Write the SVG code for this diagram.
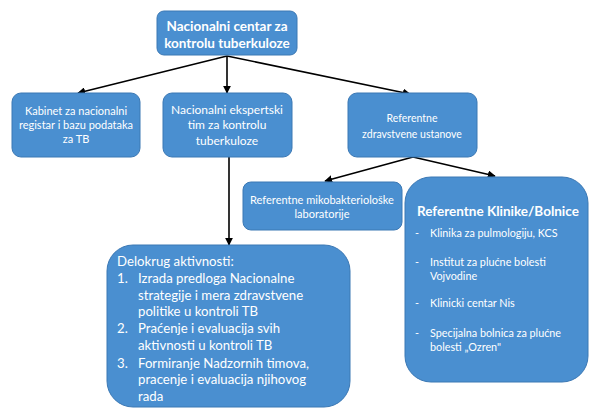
<svg xmlns="http://www.w3.org/2000/svg" width="599" height="419" viewBox="0 0 599 419">
<defs>
<marker id="ah" viewBox="0 0 10 10" refX="9" refY="5" markerWidth="5" markerHeight="5" orient="auto-start-reverse"><path d="M0,0 L10,5 L0,10 z" fill="#000"/></marker>
<style>
.box{fill:#4a8fd0;stroke:#3b78b4;stroke-width:1}
.t{font-family:Lato,"Open Sans","Liberation Sans",sans-serif;fill:#fff}
.c{text-anchor:middle}
.b{font-weight:bold}
.conn{stroke:#000;stroke-width:1.6;fill:none;marker-end:url(#ah)}
</style>
</defs>
<rect width="599" height="419" fill="#fff"/>
<g id="connectors">
<line class="conn" x1="227" y1="56" x2="78" y2="93"/>
<line class="conn" x1="227" y1="56" x2="227" y2="93"/>
<line class="conn" x1="227" y1="56" x2="410" y2="94"/>
<line class="conn" x1="229" y1="157" x2="229" y2="245"/>
<line class="conn" x1="413" y1="157" x2="325" y2="181"/>
<line class="conn" x1="413" y1="157" x2="495" y2="176"/>
</g>
<g id="n_top">
<rect class="box" x="157" y="11" width="140" height="44" rx="7"/>
<text class="t c b" font-size="13.5" x="227" y="31">Nacionalni centar za</text>
<text class="t c b" font-size="13.5" x="227" y="48">kontrolu tuberkuloze</text>
</g>
<g id="n_kabinet">
<rect class="box" x="12" y="93" width="128" height="64" rx="9"/>
<text class="t c" font-size="11" x="76" y="115">Kabinet za nacionalni</text>
<text class="t c" font-size="11" x="76" y="129">registar i bazu podataka</text>
<text class="t c" font-size="11" x="76" y="143">za TB</text>
</g>
<g id="n_ekspert">
<rect class="box" x="163" y="93" width="129" height="64" rx="9"/>
<text class="t c" font-size="12" x="227" y="114">Nacionalni ekspertski</text>
<text class="t c" font-size="12" x="227" y="129">tim za kontrolu</text>
<text class="t c" font-size="12" x="227" y="145">tuberkuloze</text>
</g>
<g id="n_ref">
<rect class="box" x="348" y="93" width="129" height="64" rx="9"/>
<text class="t c" font-size="10.5" x="412" y="122">Referentne</text>
<text class="t c" font-size="10.5" x="412" y="138">zdravstvene ustanove</text>
</g>
<g id="n_lab">
<rect class="box" x="243" y="182" width="159" height="48" rx="8"/>
<text class="t c" font-size="11" x="322" y="204">Referentne mikobakteriološke</text>
<text class="t c" font-size="11" x="322" y="218">laboratorije</text>
</g>
<g id="n_klinike">
<rect class="box" x="405" y="177" width="183" height="205" rx="26"/>
<text class="t b" font-size="13.5" x="417" y="216">Referentne Klinike/Bolnice</text>
<g font-size="10.8">
<text class="t" x="415" y="237">-</text><text class="t" x="430" y="237">Klinika za pulmologiju, KCS</text>
<text class="t" x="415" y="266">-</text><text class="t" x="430" y="266">Institut za plućne bolesti</text>
<text class="t" x="430" y="280">Vojvodine</text>
<text class="t" x="415" y="307">-</text><text class="t" x="430" y="307">Klinicki centar Nis</text>
<text class="t" x="415" y="337">-</text><text class="t" x="430" y="337">Specijalna bolnica za plućne</text>
<text class="t" x="430" y="351">bolesti „Ozren"</text>
</g>
</g>
<g id="n_delokrug">
<rect class="box" x="107" y="245" width="243" height="162" rx="26"/>
<g font-size="13.2" xml:space="preserve">
<text class="t" x="117" y="266">Delokrug aktivnosti:</text>
<text class="t" x="117" y="283">1.</text><text class="t" x="138" y="283">Izrada predloga Nacionalne</text>
<text class="t" x="138" y="300">strategije i mera zdravstvene</text>
<text class="t" x="138" y="316">politike u kontroli TB</text>
<text class="t" x="117" y="333">2.</text><text class="t" x="138" y="333">Praćenje i  evaluacija svih</text>
<text class="t" x="138" y="350">aktivnosti u kontroli TB</text>
<text class="t" x="117" y="368">3.</text><text class="t" x="138" y="368">Formiranje Nadzornih timova,</text>
<text class="t" x="138" y="384">pracenje i evaluacija  njihovog</text>
<text class="t" x="138" y="401">rada</text>
</g>
</g>
</svg>
